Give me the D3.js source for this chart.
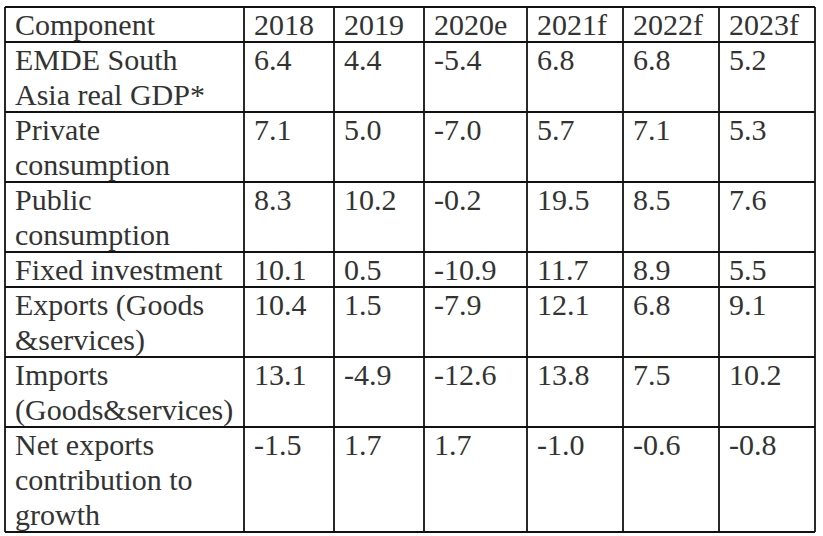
<!DOCTYPE html>
<html><head><meta charset="utf-8">
<script src="https://cdn.jsdelivr.net/npm/d3@7"></script>
<style>
html,body{margin:0;padding:0;background:#fff;}
svg{display:block;}
text{font-family:"Liberation Serif","Times New Roman","DejaVu Serif",serif;}
</style></head>
<body>
<svg id="c" width="823" height="536"></svg>
<script>
// ---- data ----
const headerLabel = "Component";
const years = ["2018", "2019", "2020e", "2021f", "2022f", "2023f"];
const components = [
  ["EMDE South", "Asia real GDP*"],
  ["Private", "consumption"],
  ["Public", "consumption"],
  ["Fixed investment"],
  ["Exports (Goods", "&services)"],
  ["Imports", "(Goods&services)"],
  ["Net exports", "contribution to", "growth"]
];
const gdp        = ["6.4", "4.4", "-5.4", "6.8", "6.8", "5.2"];
const privCons   = ["7.1", "5.0", "-7.0", "5.7", "7.1", "5.3"];
const pubCons    = ["8.3", "10.2", "-0.2", "19.5", "8.5", "7.6"];
const fixedInv   = ["10.1", "0.5", "-10.9", "11.7", "8.9", "5.5"];
const exportsG   = ["10.4", "1.5", "-7.9", "12.1", "6.8", "9.1"];
const importsG   = ["13.1", "-4.9", "-12.6", "13.8", "7.5", "10.2"];
const netExports = ["-1.5", "1.7", "1.7", "-1.0", "-0.6", "-0.8"];
const values = [gdp, privCons, pubCons, fixedInv, exportsG, importsG, netExports];

// ---- layout ----
const colEdges = [5, 244, 334, 424, 527, 623, 719, 815];
const tableTop = 7, tableBottom = 532;
const fontSize = 30;
const padX = 10, baseOff = 27.5;

const rows = [{lines: [headerLabel], cells: years, header: true}]
  .concat(components.map((c, i) => ({lines: c, cells: values[i]})));
const rowLines = rows.map(r => r.lines.length);
const cum = [0];
rowLines.forEach(n => cum.push(cum[cum.length - 1] + n));
const y = d3.scaleLinear().domain([0, cum[cum.length - 1]]).range([tableTop, tableBottom]);
const x = d3.scaleOrdinal().domain(d3.range(colEdges.length)).range(colEdges);

const svg = d3.select("#c");
const g = svg.append("g");

// text
rows.forEach((r, ri) => {
  const ry = y(cum[ri]);
  const lh = y(1) - y(0);
  r.lines.forEach((t, li) => {
    g.append("text").attr("x", x(0) + padX).attr("y", ry + baseOff + li * lh)
      .attr("font-size", fontSize).attr("fill", "#333").text(t);
  });
  r.cells.forEach((t, ci) => {
    g.append("text").attr("x", x(ci + 1) + padX).attr("y", ry + baseOff)
      .attr("font-size", fontSize).attr("fill", "#333").text(t);
  });
});

// grid
cum.forEach(c => {
  g.append("line").attr("x1", colEdges[0]).attr("x2", colEdges[colEdges.length - 1])
    .attr("y1", y(c)).attr("y2", y(c)).attr("stroke", "#111").attr("stroke-width", 1.8);
});
colEdges.forEach((cx, i) => {
  g.append("line").attr("x1", x(i)).attr("x2", x(i)).attr("y1", tableTop).attr("y2", tableBottom)
    .attr("stroke", "#111").attr("stroke-width", 1.8);
});
</script>
</body></html>
